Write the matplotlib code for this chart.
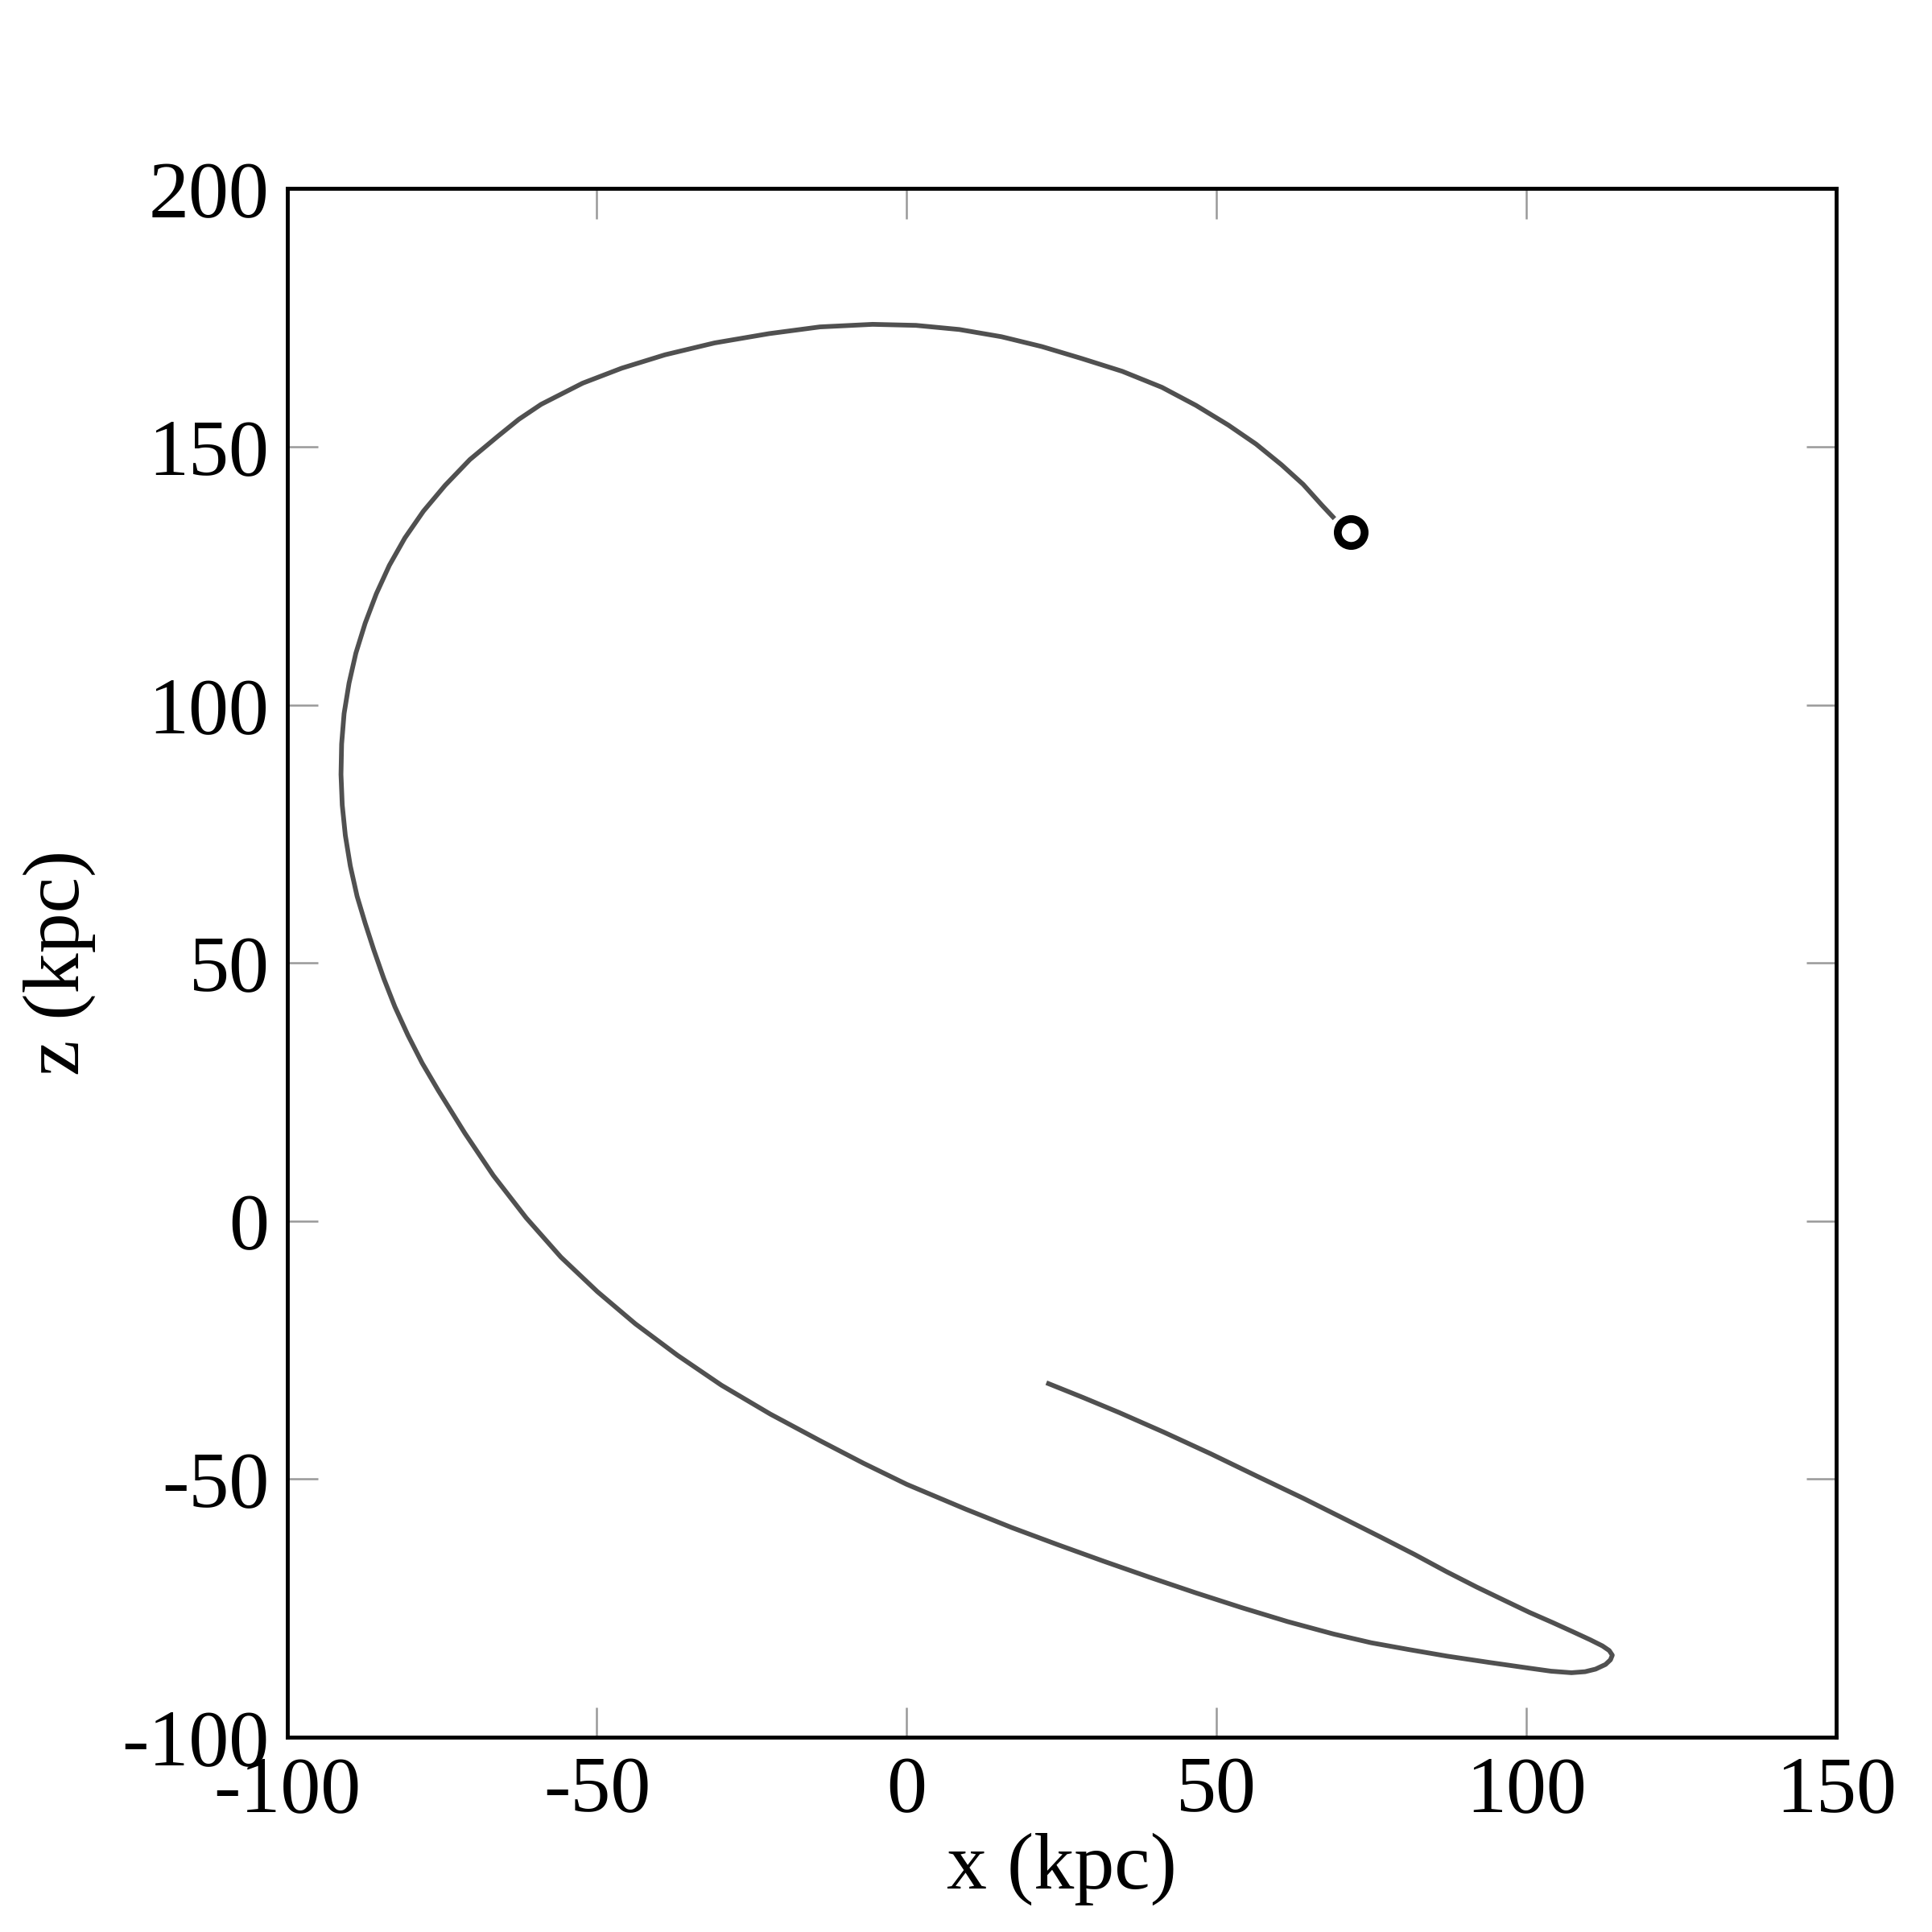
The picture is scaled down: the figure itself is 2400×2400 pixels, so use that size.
import matplotlib
matplotlib.use('Agg')
import matplotlib.pyplot as plt

# orbit track (kpc), from the marker to the free end
x_kpc = [68.8, 67, 64, 60.5, 56.4, 51.9, 46.7, 41.2, 34.8, 28.2, 21.8, 15.3,
         8.5, 1.5, -5.5, -14, -22.2, -31, -39, -46, -52.3, -59, -62.6, -66,
         -70.5, -74.5, -78, -81, -83.5, -85.6, -87.4, -88.9, -90, -90.8, -91.2,
         -91.3, -91.1, -90.6, -89.8, -88.7, -87.4, -86, -84.4, -82.6, -80.5,
         -78.2, -75.6, -71.3, -66.7, -61.4, -55.8, -49.9, -43.8, -37, -29.9,
         -22, -13.9, -7, 0, 9.5, 17, 24.4, 31.8, 39.2, 46.6, 54.1, 61.5, 68.9,
         75, 81, 87.3, 94, 100.4, 104, 107.3, 109.5, 111.2, 112.8, 113.6, 113.9,
         113.4, 112.3, 110.3, 107.6, 104.3, 100.5, 96.5, 92, 87.1, 82, 76.3, 70,
         64, 56.5, 49.1, 41.5, 34.3, 28.5, 22.9]
z_kpc = [136.4, 138.7, 142.7, 146.5, 150.5, 154.2, 158, 161.5, 164.6, 167.1,
         169.4, 171.3, 172.7, 173.5, 173.7, 173.2, 171.9, 170.1, 167.8, 165.2,
         162.3, 158.2, 155.3, 152, 147.5, 142.5, 137.5, 132.3, 127, 121.5,
         115.8, 110, 104.2, 98.3, 92.4, 86.5, 80.6, 74.7, 68.8, 62.9, 57.7,
         52.5, 47, 41.5, 36, 30.6, 25.3, 17, 8.8, 0.6, -7, -13.7, -19.9, -26,
         -31.8, -37.4, -42.6, -46.9, -51, -55.8, -59.4, -62.7, -65.9, -69, -72,
         -74.9, -77.6, -80, -81.7, -83, -84.3, -85.5, -86.6, -87.2, -87.5,
         -87.3, -86.8, -85.9, -85, -84.1, -83.2, -82.3, -81.1, -79.6, -77.8,
         -75.8, -73.5, -70.9, -67.9, -64.6, -61.1, -57.3, -53.7, -49.4, -45.1,
         -40.9, -37.1, -34.2, -31.5]

# current position
x_now = [71.7]
z_now = [133.4]

xticks = [-100, -50, 0, 50, 100, 150]
zticks = [-100, -50, 0, 50, 100, 150, 200]

plt.rcParams['font.family'] = ['Liberation Serif', 'DejaVu Serif']
plt.rcParams['axes.unicode_minus'] = False

fig = plt.figure(figsize=(24, 24), dpi=100)
ax = fig.add_axes([0.1486, 0.1008, 0.8017, 0.8016])

ax.plot(x_kpc, z_kpc, color='#505050', lw=4.2, solid_joinstyle='round')
ax.plot(x_now, z_now, 'o', ms=24, mfc='none', mec='black', mew=7)

ax.set_xlim(-100, 150)
ax.set_ylim(-100, 200)
ax.set_xticks(xticks)
ax.set_yticks(zticks)
ax.tick_params(direction='in', length=27, width=1.8, color='#999999',
               top=True, right=True, labelsize=72)
ax.tick_params(axis='x', pad=16.5)
ax.tick_params(axis='y', pad=16)
for s in ax.spines.values():
    s.set_linewidth(3.5)
    s.set_color('black')

ax.set_xlabel('x (kpc)', fontsize=72, labelpad=4)
ax.set_ylabel('z (kpc)', fontsize=72, labelpad=23)

fig.savefig('out.png', dpi=100, facecolor='white')
